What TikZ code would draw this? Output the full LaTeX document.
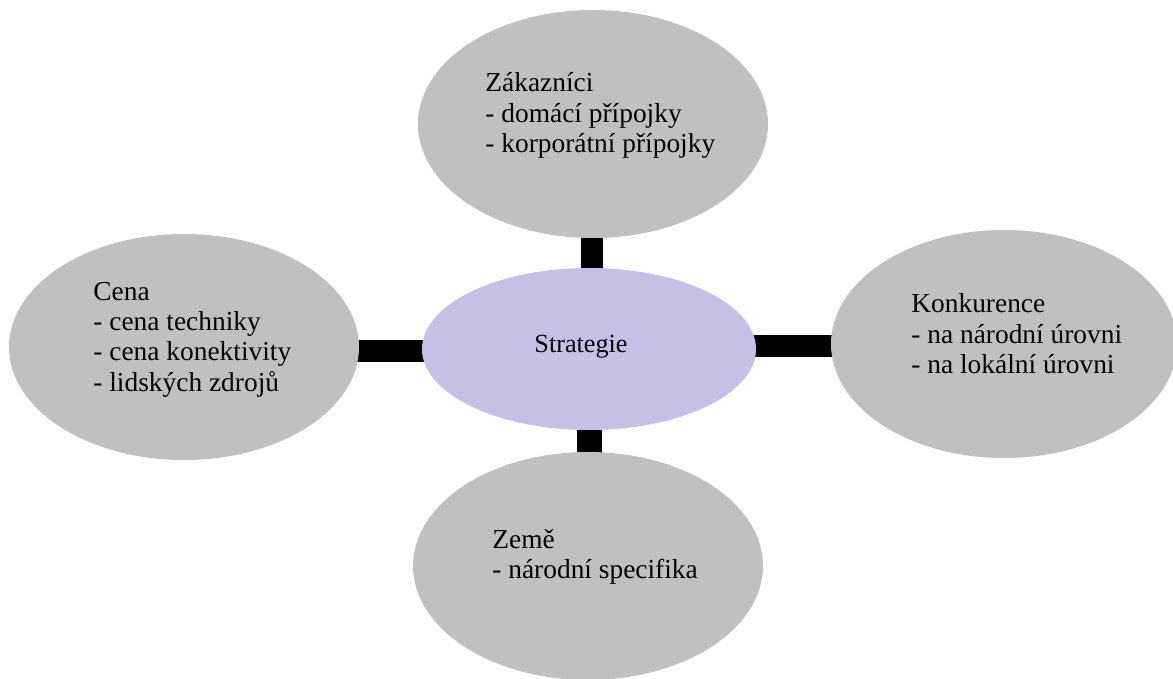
\documentclass[tikz,border=0pt]{standalone}
\usepackage{fontspec}
\setmainfont{Liberation Serif}
\usetikzlibrary{shapes.geometric}
\pgfdeclarelayer{background}
\pgfsetlayers{background,main}
\definecolor{bubblegray}{HTML}{C0C0C0}
\definecolor{hublavender}{HTML}{C6BFE6}
\tikzset{
  bubble/.style={ellipse, fill=bubblegray, draw=none, inner sep=0pt, minimum width=175pt, minimum height=114pt},
  hub/.style={ellipse, fill=hublavender, draw=none, inner sep=0pt, minimum width=167pt, minimum height=81pt},
  bar/.style={line width=11pt, black},
  lbl/.style={anchor=base west, inner sep=0pt, font=\fontsize{13.7}{15.2}\selectfont},
  hublbl/.style={anchor=base, inner sep=0pt, font=\fontsize{13.1}{15.2}\selectfont}
}
\begin{document}
\begin{tikzpicture}[x=0.5pt,y=-0.5pt]
\useasboundingbox (0,0) rectangle (1173,679);
\clip (0,0) rectangle (1173,679);
\node[bubble] (top) at (593,124) {};
\node[bubble, minimum height=113pt] (left) at (184,347) {};
\node[bubble, minimum width=173pt] (right) at (1004,344) {};
\node[bubble] (bottom) at (588,566) {};
\node[hub] (mid) at (589,349) {};
\begin{pgfonlayer}{background}
  \draw[bar] ([xshift=-0.5pt]top.center) -- ([xshift=1.5pt]mid.center);
  \draw[bar] ([yshift=-2pt]left.center) -- ([yshift=-1pt]mid.center);
  \draw[bar] ([yshift=-1pt]right.center) -- ([yshift=1.5pt]mid.center);
  \draw[bar, line width=12.5pt] ([xshift=0.75pt]bottom.center) -- ([xshift=0.25pt]mid.center);
\end{pgfonlayer}
\node[hublbl] (strat) at (581,352) {Strategie};
\node[lbl] (ttop) at (485,92) {\begin{tabular}[t]{@{}l@{}}Zákazníci\\- domácí přípojky\\- korporátní přípojky\end{tabular}};
\node[lbl] (tleft) at (93,300) {\begin{tabular}[t]{@{}l@{}}Cena\\- cena techniky\\- cena konektivity\\- lidských zdrojů\end{tabular}};
\node[lbl] (tright) at (911,313) {\begin{tabular}[t]{@{}l@{}}Konkurence\\- na národní úrovni\\- na lokální úrovni\end{tabular}};
\node[lbl] (tbottom) at (492,548) {\begin{tabular}[t]{@{}l@{}}Země\\- národní specifika\end{tabular}};
\end{tikzpicture}
\end{document}
